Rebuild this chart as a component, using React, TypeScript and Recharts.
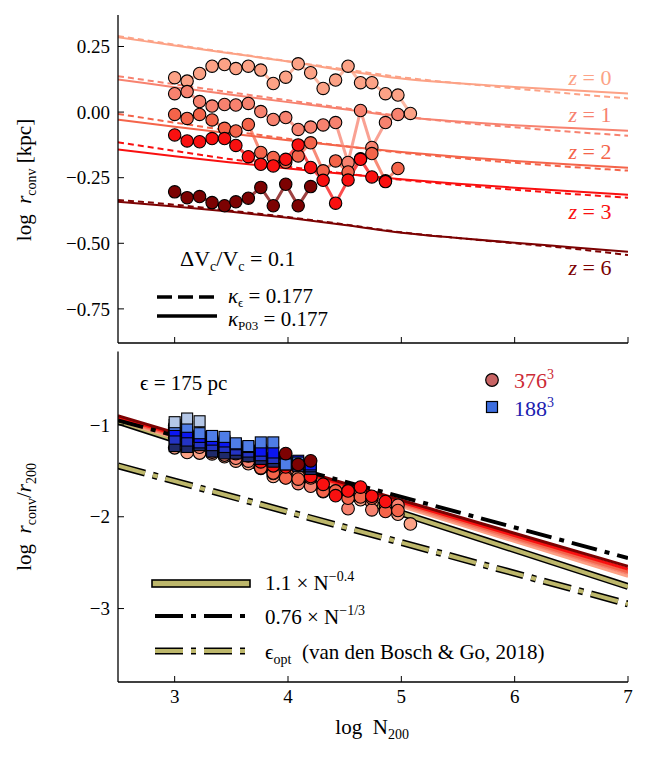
import React from "react";
import { ComposedChart, Line, Scatter, XAxis, YAxis } from "recharts";

const FONT = "'Liberation Serif', 'DejaVu Serif', serif";

// redshift order used in every list below: z = 0, 1, 2, 3, 6
const zNames = ["0", "1", "2", "3", "6"];
const redColors = ["#fca286", "#f7826f", "#f4644a", "#f91010", "#7c0202"];
const blueColors = ["#1f2a6b", "#2434c4", "#0b16f2", "#4f7de6", "#b4c7e7"];

// top panel: model curves (solid = P03, dashed = kappa_eps)
const modelLogN = [2.5, 3, 3.5, 4, 4.5, 5, 5.5, 6, 6.5, 7];
const p03Z0 = [0.285, 0.254, 0.223, 0.193, 0.158, 0.128, 0.11, 0.096, 0.083, 0.071];
const p03Z1 = [0.124, 0.095, 0.066, 0.038, 0.011, -0.018, -0.036, -0.05, -0.061, -0.071];
const p03Z2 = [-0.029, -0.056, -0.082, -0.107, -0.13, -0.152, -0.17, -0.186, -0.2, -0.212];
const p03Z3 = [-0.143, -0.168, -0.192, -0.215, -0.236, -0.256, -0.273, -0.288, -0.302, -0.315];
const p03Z6 = [-0.342, -0.36, -0.38, -0.403, -0.43, -0.46, -0.48, -0.498, -0.515, -0.532];
const epsZ0 = [0.29, 0.257, 0.225, 0.194, 0.163, 0.133, 0.11, 0.09, 0.07, 0.052];
const epsZ1 = [0.137, 0.106, 0.075, 0.045, 0.015, -0.015, -0.04, -0.058, -0.075, -0.09];
const epsZ2 = [-0.007, -0.04, -0.072, -0.102, -0.13, -0.155, -0.175, -0.193, -0.209, -0.223];
const epsZ3 = [-0.115, -0.148, -0.18, -0.208, -0.234, -0.258, -0.278, -0.296, -0.312, -0.326];
const epsZ6 = [-0.335, -0.353, -0.376, -0.4, -0.428, -0.458, -0.48, -0.5, -0.52, -0.545];

// halo mass bins (log N200)
const logN = [3.0, 3.11, 3.22, 3.33, 3.44, 3.54, 3.65, 3.76, 3.87, 3.98, 4.09, 4.2, 4.31, 4.42, 4.53, 4.64, 4.74, 4.86, 4.97, 5.08];

// top panel: measured log r_conv [kpc]
const rconvZ0 = [0.131, 0.118, 0.147, 0.175, 0.181, 0.166, 0.175, 0.16, 0.109, 0.133, 0.184, 0.15, 0.09, 0.122, 0.175, 0.112, 0.112, 0.07, 0.065, -0.005];
const rconvZ1 = [0.07, 0.078, 0.04, 0.023, 0.029, 0.027, 0.033, 0.002, -0.028, -0.021, -0.066, -0.057, -0.049, -0.04, -0.192, 0.006, -0.135, -0.04, -0.009];
const rconvZ2 = [-0.009, -0.024, -0.009, -0.03, -0.062, -0.072, -0.047, -0.154, -0.173, -0.191, -0.167, -0.117, -0.224, -0.186, -0.228, -0.178, -0.158, -0.262, -0.215];
const rconvZ3 = [-0.087, -0.11, -0.113, -0.101, -0.101, -0.127, -0.17, -0.199, -0.205, -0.18, -0.125, -0.211, -0.26, -0.347, -0.259, -0.18, -0.247, -0.265];
const rconvZ6 = [-0.304, -0.326, -0.322, -0.345, -0.357, -0.342, -0.328, -0.287, -0.357, -0.275, -0.357, -0.284];

// bottom panel: log r_conv / r200, 376^3 runs (circles)
const hiResZ0 = [-1.249, -1.299, -1.306, -1.315, -1.346, -1.394, -1.422, -1.473, -1.561, -1.574, -1.559, -1.63, -1.727, -1.731, -1.715, -1.815, -1.848, -1.93, -1.972, -2.078];
const hiResZ1 = [-1.14, -1.169, -1.243, -1.297, -1.328, -1.363, -1.394, -1.461, -1.528, -1.558, -1.639, -1.667, -1.696, -1.723, -1.912, -1.751, -1.925, -1.87, -1.876];
const hiResZ2 = [-1.069, -1.121, -1.142, -1.2, -1.269, -1.312, -1.324, -1.467, -1.523, -1.578, -1.59, -1.577, -1.721, -1.719, -1.798, -1.785, -1.798, -1.942, -1.932];
const hiResZ3 = [-1.037, -1.097, -1.136, -1.161, -1.198, -1.257, -1.337, -1.402, -1.445, -1.457, -1.438, -1.561, -1.647, -1.77, -1.719, -1.677, -1.777, -1.835];
const hiResZ6 = [-1.01, -1.079, -1.099, -1.167, -1.214, -1.228, -1.249, -1.25, -1.355, -1.312, -1.43, -1.391];

// bottom panel: 188^3 runs (squares)
const loResZ0 = [-1.23, -1.24, -1.22, -1.29, -1.31, -1.31, -1.34, -1.37, -1.4, -1.43, -1.45, -1.48];
const loResZ1 = [-1.15, -1.17, -1.19, -1.22, -1.24, -1.27, -1.29, -1.33, -1.36, -1.39, -1.42, -1.45];
const loResZ2 = [-1.06, -1.08, -1.13, -1.16, -1.18, -1.21, -1.24, -1.28, -1.3, -1.36, -1.39, -1.43];
const loResZ3 = [-1.0, -1.02, -1.09, -1.12, -1.13, -1.2, -1.23, -1.19, -1.19, -1.43, -1.41];
const loResZ6 = [-0.97, -0.93, -0.96];

// bottom panel: model band and reference relations
const bandLogN = [2.5, 5, 7];
const bandZ0 = [-0.95, -1.89, -2.65];
const bandZ1 = [-0.94, -1.87, -2.62];
const bandZ2 = [-0.93, -1.855, -2.6];
const bandZ3 = [-0.915, -1.84, -2.57];
const bandZ6 = [-0.9, -1.82, -2.54];
const refLogN = [2.5, 7];
const fitPow04 = [-0.96, -2.76];
const fitCubeRoot = [-0.95, -2.45];
const epsOpt = [-1.445, -2.95];

const pts = (xs: number[], ys: number[]) => ys.map((y, i) => ({ x: xs[i], y }));

const p03 = [p03Z0, p03Z1, p03Z2, p03Z3, p03Z6];
const eps = [epsZ0, epsZ1, epsZ2, epsZ3, epsZ6];
const rconv = [rconvZ0, rconvZ1, rconvZ2, rconvZ3, rconvZ6];
const hiRes = [hiResZ0, hiResZ1, hiResZ2, hiResZ3, hiResZ6];
const loRes = [loResZ0, loResZ1, loResZ2, loResZ3, loResZ6];
const band = [bandZ0, bandZ1, bandZ2, bandZ3, bandZ6];

// z = 6 circles of the massive bins sit above the squares in the figure
const hiResZ6Pts = pts(logN, hiResZ6);

const OLIVE = "#bdb76b";
const tickStyle = { fill: "#000", fontSize: 19, fontFamily: FONT };
const fmtTop = (v: number) => (v === 0 ? "0.00" : (v < 0 ? "\u2212" : "") + Math.abs(v).toFixed(2));
const fmtBottom = (v: number) => (v < 0 ? "\u2212" : "") + Math.abs(v);

const circleShape = (fill: string) => (p: any) =>
  <circle cx={p.cx} cy={p.cy} r={6.3} fill={fill} stroke="#000" strokeWidth={1.1} />;
const squareShape = (fill: string) => (p: any) =>
  <rect x={p.cx - 5.5} y={p.cy - 5.5} width={11} height={11} fill={fill} stroke="#000" strokeWidth={1.1} />;

function frameAxes(domainY: number[]) {
  return [
    <XAxis key="xt" xAxisId="top" orientation="top" type="number" dataKey="x" domain={[2.5, 7]} allowDataOverflow height={0} tick={false} axisLine={{ stroke: "#000", strokeWidth: 1.3 }} />,
    <YAxis key="yr" yAxisId="right" orientation="right" type="number" dataKey="y" domain={domainY} allowDataOverflow width={0} tick={false} axisLine={{ stroke: "#000", strokeWidth: 1.3 }} />,
  ];
}

function TopPanel() {
  return (
    <ComposedChart width={650} height={350} margin={{ top: 15, right: 22, bottom: 0, left: 0 }}>
      <XAxis type="number" dataKey="x" domain={[2.5, 7]} allowDataOverflow ticks={[3, 4, 5, 6, 7]} height={7}
        tickFormatter={() => ""} tickSize={-6} tickMargin={14} axisLine={{ stroke: "#000", strokeWidth: 1.3 }} tickLine={{ stroke: "#000" }} />
      <YAxis type="number" dataKey="y" domain={[-0.88, 0.37]} allowDataOverflow ticks={[-0.75, -0.5, -0.25, 0, 0.25]} width={118}
        tickFormatter={fmtTop} tick={tickStyle} tickSize={-6} tickMargin={14} axisLine={{ stroke: "#000", strokeWidth: 1.3 }} tickLine={{ stroke: "#000" }} />
      {frameAxes([-0.88, 0.37])}
      {zNames.map((z, k) => (
        <Line key={"p" + z} data={pts(modelLogN, p03[k])} dataKey="y" type="monotone" stroke={redColors[k]} strokeWidth={2}
          dot={false} isAnimationActive={false} />
      ))}
      {zNames.map((z, k) => (
        <Line key={"e" + z} data={pts(modelLogN, eps[k])} dataKey="y" type="monotone" stroke={redColors[k]} strokeWidth={2}
          strokeDasharray="6 4" dot={false} isAnimationActive={false} />
      ))}
      {zNames.map((z, k) => (
        <Line key={"m" + z} data={pts(logN, rconv[k])} dataKey="y" type="linear" stroke={redColors[k]} strokeOpacity={0.75} strokeWidth={3}
          dot={{ r: 6.2, fill: redColors[k], stroke: "#000", strokeWidth: 1.1, fillOpacity: 1, strokeOpacity: 1 }} activeDot={false} isAnimationActive={false} />
      ))}
    </ComposedChart>
  );
}

function BottomPanel() {
  return (
    <ComposedChart width={650} height={414} margin={{ top: 7.5, right: 22, bottom: 36, left: 0 }}>
      <XAxis type="number" dataKey="x" domain={[2.5, 7]} allowDataOverflow ticks={[3, 4, 5, 6, 7]} height={40}
        tick={tickStyle} tickSize={-6} tickMargin={14} axisLine={{ stroke: "#000", strokeWidth: 1.3 }} tickLine={{ stroke: "#000" }} />
      <YAxis type="number" dataKey="y" domain={[-3.8, -0.2]} allowDataOverflow ticks={[-3, -2, -1]} width={118}
        tickFormatter={fmtBottom} tick={tickStyle} tickSize={-6} tickMargin={14} axisLine={{ stroke: "#000", strokeWidth: 1.3 }} tickLine={{ stroke: "#000" }} />
      {frameAxes([-3.8, -0.2])}
      <Line data={pts(refLogN, epsOpt)} dataKey="y" stroke="#000" strokeWidth={7} strokeDasharray="28 8 5 8" dot={false} isAnimationActive={false} />
      <Line data={pts(refLogN, epsOpt)} dataKey="y" stroke={OLIVE} strokeWidth={4} strokeDasharray="28 8 5 8" dot={false} isAnimationActive={false} />
      <Line data={pts(refLogN, fitPow04)} dataKey="y" stroke="#000" strokeWidth={7} dot={false} isAnimationActive={false} />
      <Line data={pts(refLogN, fitPow04)} dataKey="y" stroke={OLIVE} strokeWidth={4} dot={false} isAnimationActive={false} />
      {zNames.map((z, k) => (
        <Line key={"b" + z} data={pts(bandLogN, band[k])} dataKey="y" type="monotone" stroke={redColors[k]} strokeWidth={3}
          dot={false} isAnimationActive={false} />
      ))}
      <Line data={pts(refLogN, fitCubeRoot)} dataKey="y" stroke="#000" strokeWidth={4} strokeDasharray="26 8 5 8" dot={false} isAnimationActive={false} />
      {zNames.slice(0, 4).map((z, k) => (
        <Scatter key={"c" + z} data={pts(logN, hiRes[k])} dataKey="y" shape={circleShape(redColors[k])} isAnimationActive={false} />
      ))}
      <Scatter data={hiResZ6Pts.slice(0, 9)} dataKey="y" shape={circleShape(redColors[4])} isAnimationActive={false} />
      {zNames.map((z, k) => (
        <Scatter key={"s" + z} data={pts(logN, loRes[k])} dataKey="y" shape={squareShape(blueColors[k])} isAnimationActive={false} />
      ))}
      <Scatter data={hiResZ6Pts.slice(9)} dataKey="y" shape={circleShape(redColors[4])} isAnimationActive={false} />
    </ComposedChart>
  );
}

function Overlay() {
  const sub = (s: string, size = 14) => <tspan fontSize={size} dy={5}>{s}</tspan>;
  const up = () => <tspan dy={-5}>{"\u200a"}</tspan>;
  return (
    <svg width={650} height={758} style={{ position: "absolute", left: 0, top: 0, pointerEvents: "none" }} fontFamily={FONT}>
      {/* axis titles */}
      <text transform="translate(31,180) rotate(-90)" textAnchor="middle" fontSize={21}>
        log{"\u2002"}<tspan fontStyle="italic">r</tspan>{sub("conv")}<tspan dy={-5}>{" [kpc]"}</tspan>
      </text>
      <text transform="translate(31,516) rotate(-90)" textAnchor="middle" fontSize={21}>
        log{"\u2002"}<tspan fontStyle="italic">r</tspan>{sub("conv")}<tspan dy={-5}>/</tspan><tspan fontStyle="italic">r</tspan>{sub("200")}{up()}
      </text>
      <text x={373} y={734} textAnchor="middle" fontSize={21}>
        log{"\u2002"}N{sub("200")}{up()}
      </text>

      {/* redshift labels */}
      {zNames.map((z, k) => (
        <text key={z} x={590} y={[85, 122, 159, 219, 275][k]} textAnchor="middle" fontSize={22} fill={redColors[k]}>
          <tspan fontStyle="italic">z</tspan> = {z}
        </text>
      ))}

      {/* top legend */}
      <text x={180} y={266} fontSize={22}>
        ΔV{sub("c")}<tspan dy={-5}>/V</tspan>{sub("c")}<tspan dy={-5}> = 0.1</tspan>
      </text>
      <line x1={157} x2={217} y1={297} y2={297} stroke="#000" strokeWidth={3.5} strokeDasharray="15 6" />
      <text x={228} y={303} fontSize={21}>
        <tspan fontStyle="italic">κ</tspan><tspan fontSize={13} dy={4}>ϵ</tspan><tspan dy={-4}> = 0.177</tspan>
      </text>
      <line x1={157} x2={217} y1={316} y2={316} stroke="#000" strokeWidth={3.5} />
      <text x={228} y={326} fontSize={21}>
        <tspan fontStyle="italic">κ</tspan><tspan fontSize={13} dy={4}>P03</tspan><tspan dy={-4}> = 0.177</tspan>
      </text>

      {/* bottom annotations */}
      <text x={140} y={390} fontSize={21}>ϵ = 175 pc</text>
      <circle cx={492} cy={380} r={6.3} fill="#c86464" stroke="#000" strokeWidth={1.2} />
      <text x={514} y={388} fontSize={22} fill="#cc2a36">376<tspan fontSize={14} dy={-9}>3</tspan></text>
      <rect x={486.5} y={401.5} width={11} height={11} fill="#3d6ee0" stroke="#000" strokeWidth={1.2} />
      <text x={514} y={416} fontSize={22} fill="#1c1cb0">188<tspan fontSize={14} dy={-9}>3</tspan></text>

      {/* bottom legend */}
      <rect x={152} y={580} width={98} height={7} fill={OLIVE} stroke="#000" strokeWidth={1.6} />
      <text x={265} y={590} fontSize={21}>
        1.1 × N<tspan fontSize={14} dy={-9}>−0.4</tspan>
      </text>
      <line x1={155} x2={246} y1={616} y2={616} stroke="#000" strokeWidth={4} strokeDasharray="28 8 5 8" />
      <text x={265} y={624} fontSize={21}>
        0.76 × N<tspan fontSize={14} dy={-9}>−1/3</tspan>
      </text>
      <line x1={155} x2={246} y1={651} y2={651} stroke="#000" strokeWidth={7} strokeDasharray="28 8 5 8" />
      <line x1={155} x2={246} y1={651} y2={651} stroke={OLIVE} strokeWidth={4} strokeDasharray="28 8 5 8" />
      <text x={265} y={659} fontSize={21}>
        ϵ{sub("opt", 14)}<tspan dy={-5}>{"\u2002"}(van den Bosch &amp; Go, 2018)</tspan>
      </text>
    </svg>
  );
}

export default function App() {
  return (
    <div style={{ position: "absolute", left: 0, top: 0, width: 650, height: 758, background: "#fff" }}>
      <div style={{ position: "absolute", left: 0, top: 0 }}>
        <TopPanel />
      </div>
      <div style={{ position: "absolute", left: 0, top: 344 }}>
        <BottomPanel />
      </div>
      <Overlay />
    </div>
  );
}
